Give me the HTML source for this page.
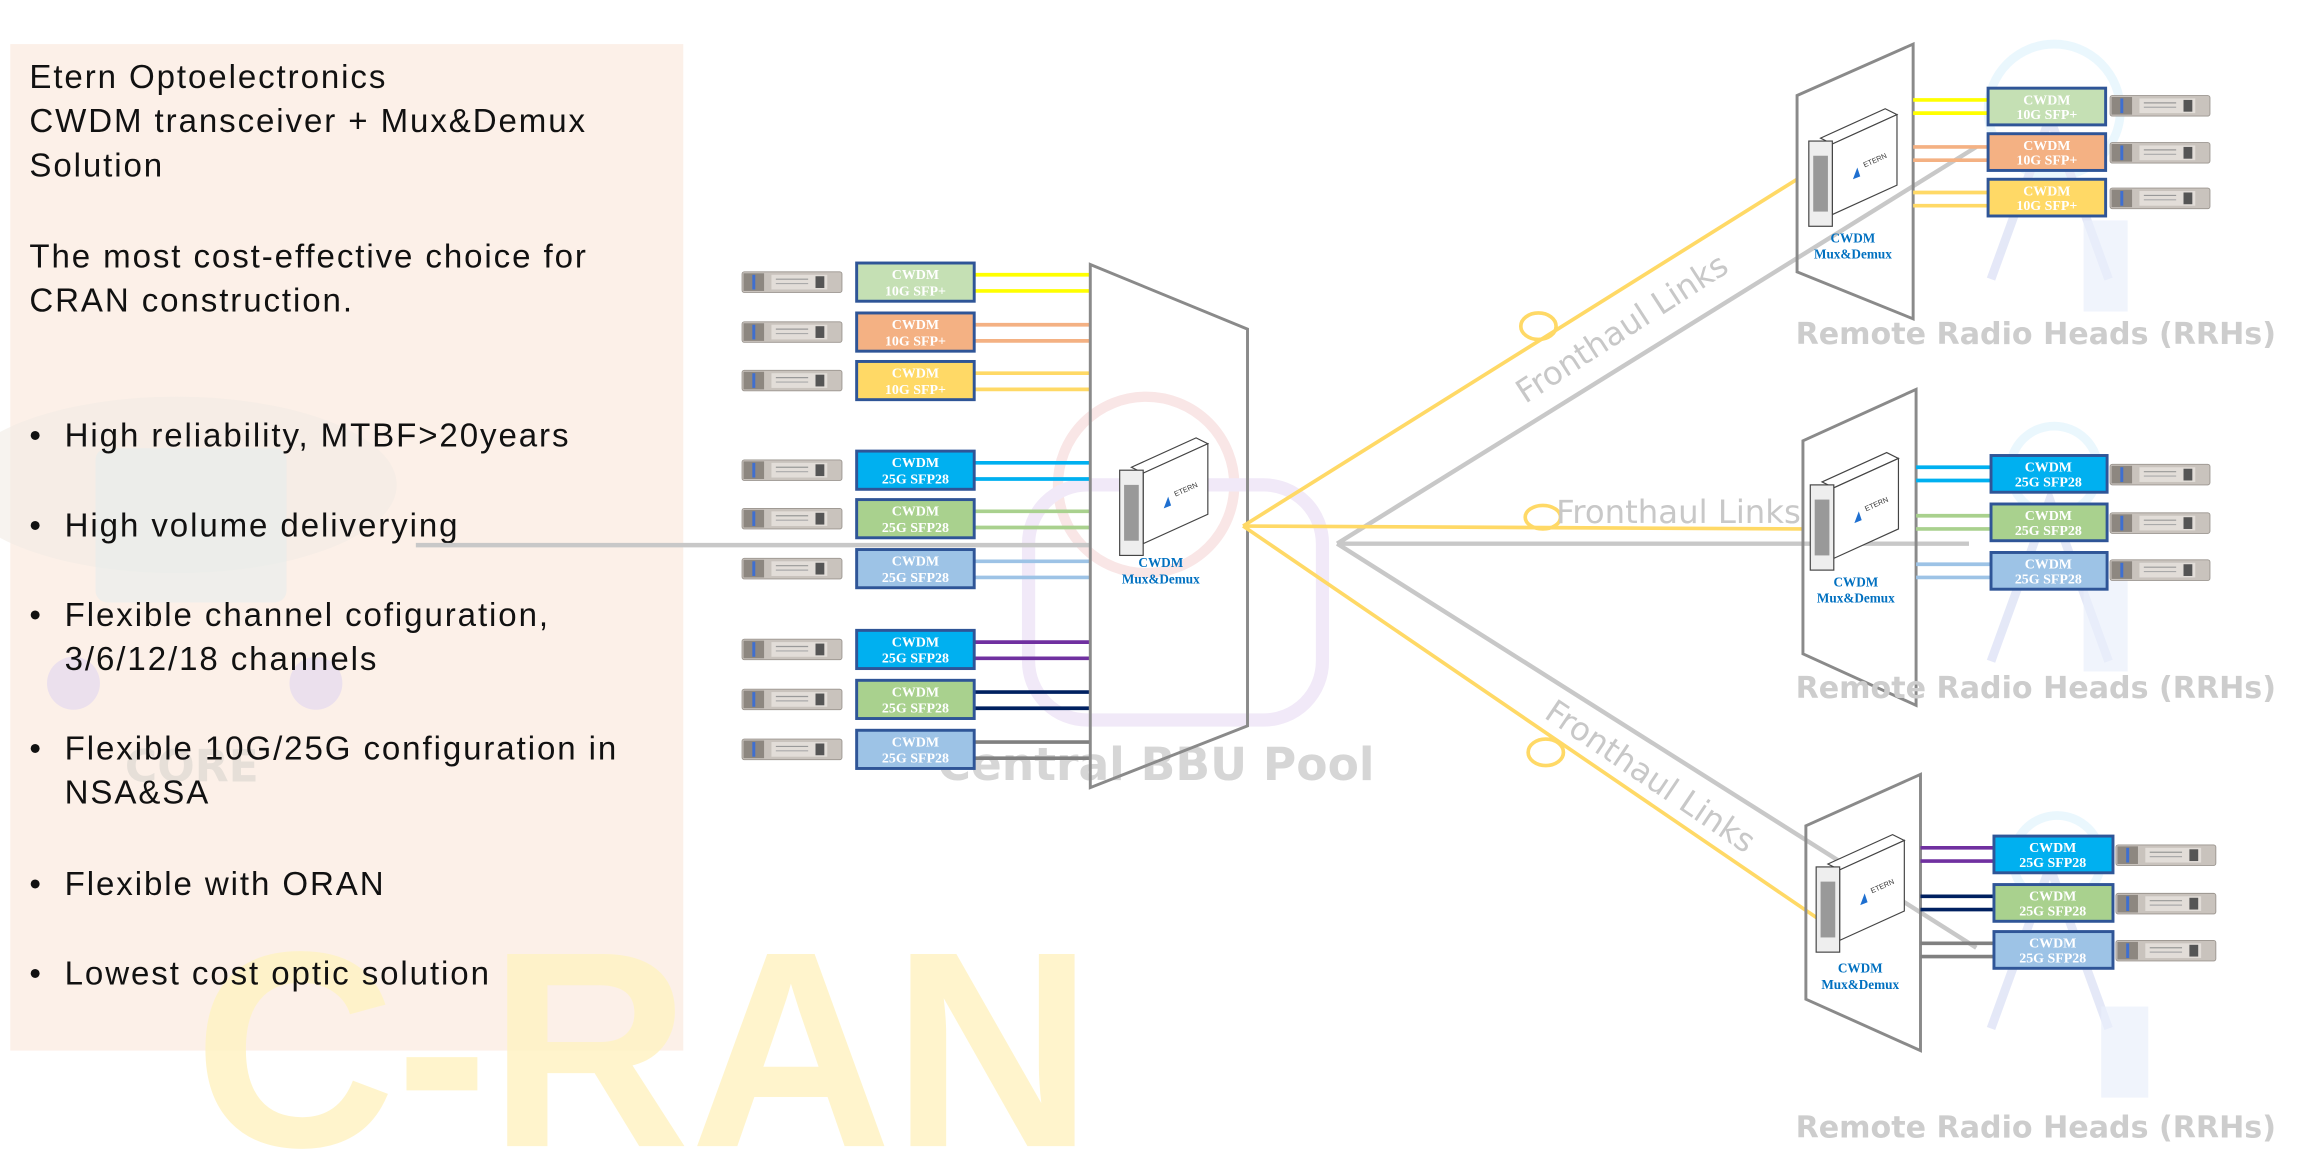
<!DOCTYPE html>
<html><head><meta charset="utf-8"><style>
html,body{margin:0;padding:0;background:#fff;}
svg{display:block;}
.t{font-family:"Liberation Sans",sans-serif;fill:#111;font-size:22.5px;letter-spacing:1.3px;}
.bx{font-family:"Liberation Serif",serif;font-weight:bold;fill:#fff;font-size:9.5px;text-anchor:middle;}
.mx{font-family:"Liberation Serif",serif;font-weight:bold;fill:#0070c0;font-size:9px;text-anchor:middle;}
.wm{font-family:"DejaVu Sans",sans-serif;font-weight:bold;fill:#cfcfcf;}
</style></head><body>
<svg width="2304" height="1163" viewBox="0 0 1568 791.5" preserveAspectRatio="none" xmlns="http://www.w3.org/2000/svg">
<defs>
<g id="sfp">
<rect x="0" y="-7" width="68" height="14" rx="1.5" fill="#c9c3bd" stroke="#9a948e" stroke-width="0.6"/>
<rect x="1" y="-6" width="14" height="12" fill="#8d8780"/>
<rect x="7" y="-5" width="2" height="10" fill="#3f6fd0"/>
<rect x="20" y="-5" width="38" height="10" fill="#e2ddd8"/>
<rect x="50" y="-4" width="6" height="8" fill="#555"/>
<line x1="23" y1="-2" x2="45" y2="-2" stroke="#999" stroke-width="0.8"/>
<line x1="23" y1="1" x2="45" y2="1" stroke="#aaa" stroke-width="0.8"/>
</g>
<g id="mux">
<polygon points="8,6 52,-14 60,-10 16,10" fill="#fff" stroke="#444" stroke-width="0.8"/>
<polygon points="16,10 60,-10 60,38 16,58" fill="#fff" stroke="#444" stroke-width="0.8"/>
<rect x="0" y="8" width="16" height="58" fill="#eee" stroke="#444" stroke-width="0.8"/>
<rect x="3" y="18" width="10" height="38" fill="#999"/>
<path d="M30 34 l3 -8 l2 6 z" fill="#1e6fd0"/>
<text x="38" y="26" font-size="5" fill="#333" font-family="Liberation Sans" transform="rotate(-24 38 26)">ETERN</text>
</g>
</defs>

<!-- panel -->
<rect x="7" y="30" width="458" height="685" fill="#fcf0e8"/>
<!-- CORE faint watermark -->
<ellipse cx="120" cy="330" rx="150" ry="60" fill="#f2ebe5" opacity="0.6"/>
<rect x="65" y="305" width="130" height="105" rx="8" fill="#e6ecec" opacity="0.6"/>
<circle cx="50" cy="465" r="18" fill="#e4d8f0" opacity="0.7"/>
<circle cx="215" cy="465" r="18" fill="#e4d8f0" opacity="0.7"/>
<text x="85" y="532" class="wm" font-size="30" style="fill:#e6dfd8">CORE</text>

<!-- C-RAN watermark -->
<text x="132" y="780" font-family="Liberation Sans" font-weight="bold" font-size="190" fill="#fff3c4" opacity="0.85">C-RAN</text>

<!-- text -->
<text class="t" x="20" y="60">Etern Optoelectronics</text>
<text class="t" x="20" y="90">CWDM transceiver +  Mux&amp;Demux</text>
<text class="t" x="20" y="120">Solution</text>
<text class="t" x="20" y="182">The most cost-effective choice for</text>
<text class="t" x="20" y="212">CRAN construction.</text>
<g class="t">
<text x="20" y="304">•</text><text x="44" y="304">High reliability, MTBF&gt;20years</text>
<text x="20" y="365">•</text><text x="44" y="365">High volume deliverying</text>
<text x="20" y="426">•</text><text x="44" y="426">Flexible channel cofiguration,</text>
<text x="44" y="456">3/6/12/18 channels</text>
<text x="20" y="517">•</text><text x="44" y="517">Flexible 10G/25G configuration in</text>
<text x="44" y="547">NSA&amp;SA</text>
<text x="20" y="609">•</text><text x="44" y="609">Flexible with ORAN</text>
<text x="20" y="670">•</text><text x="44" y="670">Lowest cost optic solution</text>
</g>

<!-- BBU watermark -->
<circle cx="780" cy="330" r="60" fill="none" stroke="#f9e6e6" stroke-width="7"/>
<rect x="700" y="330" width="200" height="160" rx="40" fill="none" stroke="#f1e9f8" stroke-width="9"/>
<text x="638" y="531" class="wm" font-size="31" style="fill:#d6d6d6">Central BBU Pool</text>

<!-- core line -->
<line x1="283" y1="371" x2="742" y2="371" stroke="#c8c8c8" stroke-width="3"/>

<!-- left SFPs -->
<use href="#sfp" x="505" y="192"/><use href="#sfp" x="505" y="226"/><use href="#sfp" x="505" y="259"/>
<use href="#sfp" x="505" y="320"/><use href="#sfp" x="505" y="353"/><use href="#sfp" x="505" y="387"/>
<use href="#sfp" x="505" y="442"/><use href="#sfp" x="505" y="476"/><use href="#sfp" x="505" y="510"/>

<!-- left fibers -->
<g stroke-width="2.5">
<line x1="663" y1="187" x2="742" y2="187" stroke="#ffff00"/><line x1="663" y1="198" x2="742" y2="198" stroke="#ffff00"/>
<line x1="663" y1="221" x2="742" y2="221" stroke="#f4b183"/><line x1="663" y1="232" x2="742" y2="232" stroke="#f4b183"/>
<line x1="663" y1="254" x2="742" y2="254" stroke="#ffd966"/><line x1="663" y1="265" x2="742" y2="265" stroke="#ffd966"/>
<line x1="663" y1="315" x2="742" y2="315" stroke="#00b0f0"/><line x1="663" y1="326" x2="742" y2="326" stroke="#00b0f0"/>
<line x1="663" y1="348" x2="742" y2="348" stroke="#a9d18e"/><line x1="663" y1="359" x2="742" y2="359" stroke="#a9d18e"/>
<line x1="663" y1="382" x2="742" y2="382" stroke="#9dc3e6"/><line x1="663" y1="393" x2="742" y2="393" stroke="#9dc3e6"/>
<line x1="663" y1="437" x2="742" y2="437" stroke="#7030a0"/><line x1="663" y1="448" x2="742" y2="448" stroke="#7030a0"/>
<line x1="663" y1="471" x2="742" y2="471" stroke="#002060"/><line x1="663" y1="482" x2="742" y2="482" stroke="#002060"/>
<line x1="663" y1="505" x2="742" y2="505" stroke="#808080"/><line x1="663" y1="516" x2="742" y2="516" stroke="#808080"/>
</g>

<!-- left boxes -->
<g stroke="#2f5597" stroke-width="2">
<rect x="583" y="179" width="80" height="26" fill="#c5e0b4"/>
<rect x="583" y="213" width="80" height="26" fill="#f4b183"/>
<rect x="583" y="246" width="80" height="26" fill="#ffd966"/>
<rect x="583" y="307" width="80" height="26" fill="#00b0f0"/>
<rect x="583" y="340" width="80" height="26" fill="#a9d18e"/>
<rect x="583" y="374" width="80" height="26" fill="#9dc3e6"/>
<rect x="583" y="429" width="80" height="26" fill="#00b0f0"/>
<rect x="583" y="463" width="80" height="26" fill="#a9d18e"/>
<rect x="583" y="497" width="80" height="26" fill="#9dc3e6"/>
</g>
<g class="bx">
<text x="623" y="190">CWDM</text><text x="623" y="201">10G SFP+</text>
<text x="623" y="224">CWDM</text><text x="623" y="235">10G SFP+</text>
<text x="623" y="257">CWDM</text><text x="623" y="268">10G SFP+</text>
<text x="623" y="318">CWDM</text><text x="623" y="329">25G SFP28</text>
<text x="623" y="351">CWDM</text><text x="623" y="362">25G SFP28</text>
<text x="623" y="385">CWDM</text><text x="623" y="396">25G SFP28</text>
<text x="623" y="440">CWDM</text><text x="623" y="451">25G SFP28</text>
<text x="623" y="474">CWDM</text><text x="623" y="485">25G SFP28</text>
<text x="623" y="508">CWDM</text><text x="623" y="519">25G SFP28</text>
</g>

<!-- central trapezoid -->
<polygon points="742,180 849,224 849,494 742,536" fill="none" stroke="#8a8a8a" stroke-width="2"/>
<use href="#mux" x="762" y="312"/>
<text class="mx" x="790" y="386">CWDM</text><text class="mx" x="790" y="397">Mux&amp;Demux</text>

<!-- tower watermarks -->
<g opacity="0.3" fill="none" stroke-width="6">
<circle cx="1398" cy="75" r="45" stroke="#bde6fa"/>
<path d="M1355 190 L1395 80 L1435 190" stroke="#a9b4e8"/>
<circle cx="1398" cy="320" r="30" stroke="#bde6fa"/>
<path d="M1355 450 L1395 340 L1435 450" stroke="#a9b4e8"/>
<circle cx="1400" cy="585" r="30" stroke="#bde6fa"/>
<path d="M1355 700 L1395 590 L1435 700" stroke="#a9b4e8"/>
</g>
<g fill="#e9f0fb" opacity="0.7">
<rect x="1418" y="150" width="30" height="62"/>
<rect x="1418" y="395" width="30" height="62"/>
<rect x="1430" y="685" width="32" height="62"/>
</g>

<!-- gray fan -->
<g stroke="#c8c8c8" stroke-width="3" fill="none">
<line x1="910" y1="370" x2="1345" y2="100"/>
<line x1="910" y1="370" x2="1340" y2="370"/>
<line x1="910" y1="370" x2="1345" y2="645"/>
</g>
<!-- yellow fan -->
<g stroke="#ffd966" stroke-width="2.5" fill="none">
<line x1="846" y1="358" x2="1223" y2="122"/>
<line x1="846" y1="358" x2="1227" y2="360"/>
<line x1="846" y1="358" x2="1237" y2="625"/>
<ellipse cx="1047" cy="222" rx="12" ry="9"/>
<ellipse cx="1050" cy="352" rx="12" ry="8"/>
<ellipse cx="1052" cy="512" rx="12" ry="9"/>
</g>
<g class="wm" font-size="22" style="fill:#c8c8c8;font-weight:normal">
<text x="0" y="0" transform="translate(1038,275) rotate(-33)">Fronthaul Links</text>
<text x="1059" y="356">Fronthaul Links</text>
<text x="0" y="0" transform="translate(1050,488) rotate(34)">Fronthaul Links</text>
</g>

<!-- right trapezoids -->
<g fill="none" stroke="#8a8a8a" stroke-width="2">
<polygon points="1223,65 1302,30 1302,217 1223,185"/>
<polygon points="1227,300 1304,265 1304,480 1227,445"/>
<polygon points="1229,562 1307,527 1307,715 1229,680"/>
</g>
<use href="#mux" x="1231" y="88"/>
<use href="#mux" x="1232" y="322"/>
<use href="#mux" x="1236" y="582"/>
<text class="mx" x="1261" y="165">CWDM</text><text class="mx" x="1261" y="176">Mux&amp;Demux</text>
<text class="mx" x="1263" y="399">CWDM</text><text class="mx" x="1263" y="410">Mux&amp;Demux</text>
<text class="mx" x="1266" y="662">CWDM</text><text class="mx" x="1266" y="673">Mux&amp;Demux</text>

<!-- right fibers -->
<g stroke-width="2.5">
<line x1="1302" y1="68" x2="1353" y2="68" stroke="#ffff00"/><line x1="1302" y1="77" x2="1353" y2="77" stroke="#ffff00"/>
<line x1="1302" y1="100" x2="1353" y2="100" stroke="#f4b183"/><line x1="1302" y1="109" x2="1353" y2="109" stroke="#f4b183"/>
<line x1="1302" y1="131" x2="1353" y2="131" stroke="#ffd966"/><line x1="1302" y1="140" x2="1353" y2="140" stroke="#ffd966"/>
<line x1="1304" y1="318" x2="1355" y2="318" stroke="#00b0f0"/><line x1="1304" y1="327" x2="1355" y2="327" stroke="#00b0f0"/>
<line x1="1304" y1="351" x2="1355" y2="351" stroke="#a9d18e"/><line x1="1304" y1="360" x2="1355" y2="360" stroke="#a9d18e"/>
<line x1="1304" y1="384" x2="1355" y2="384" stroke="#9dc3e6"/><line x1="1304" y1="393" x2="1355" y2="393" stroke="#9dc3e6"/>
<line x1="1307" y1="577" x2="1357" y2="577" stroke="#7030a0"/><line x1="1307" y1="586" x2="1357" y2="586" stroke="#7030a0"/>
<line x1="1307" y1="610" x2="1357" y2="610" stroke="#002060"/><line x1="1307" y1="619" x2="1357" y2="619" stroke="#002060"/>
<line x1="1307" y1="642" x2="1357" y2="642" stroke="#808080"/><line x1="1307" y1="651" x2="1357" y2="651" stroke="#808080"/>
</g>

<!-- right boxes -->
<g stroke="#2f5597" stroke-width="2">
<rect x="1353" y="60" width="80" height="25" fill="#c5e0b4"/>
<rect x="1353" y="91" width="80" height="25" fill="#f4b183"/>
<rect x="1353" y="122" width="80" height="25" fill="#ffd966"/>
<rect x="1355" y="310" width="79" height="25" fill="#00b0f0"/>
<rect x="1355" y="343" width="79" height="25" fill="#a9d18e"/>
<rect x="1355" y="376" width="79" height="25" fill="#9dc3e6"/>
<rect x="1357" y="569" width="81" height="25" fill="#00b0f0"/>
<rect x="1357" y="602" width="81" height="25" fill="#a9d18e"/>
<rect x="1357" y="634" width="81" height="25" fill="#9dc3e6"/>
</g>
<g class="bx">
<text x="1393" y="71">CWDM</text><text x="1393" y="81">10G SFP+</text>
<text x="1393" y="102">CWDM</text><text x="1393" y="112">10G SFP+</text>
<text x="1393" y="133">CWDM</text><text x="1393" y="143">10G SFP+</text>
<text x="1394" y="321">CWDM</text><text x="1394" y="331">25G SFP28</text>
<text x="1394" y="354">CWDM</text><text x="1394" y="364">25G SFP28</text>
<text x="1394" y="387">CWDM</text><text x="1394" y="397">25G SFP28</text>
<text x="1397" y="580">CWDM</text><text x="1397" y="590">25G SFP28</text>
<text x="1397" y="613">CWDM</text><text x="1397" y="623">25G SFP28</text>
<text x="1397" y="645">CWDM</text><text x="1397" y="655">25G SFP28</text>
</g>
<use href="#sfp" x="1436" y="72"/><use href="#sfp" x="1436" y="104"/><use href="#sfp" x="1436" y="135"/>
<use href="#sfp" x="1436" y="323"/><use href="#sfp" x="1436" y="356"/><use href="#sfp" x="1436" y="388"/>
<use href="#sfp" x="1440" y="582"/><use href="#sfp" x="1440" y="615"/><use href="#sfp" x="1440" y="647"/>

<!-- RRH labels -->
<g class="wm" font-size="20.5" style="fill:#cdcdcd">
<text x="1222" y="234">Remote Radio Heads (RRHs)</text>
<text x="1222" y="475">Remote Radio Heads (RRHs)</text>
<text x="1222" y="774">Remote Radio Heads (RRHs)</text>
</g>
</svg>
</body></html>
